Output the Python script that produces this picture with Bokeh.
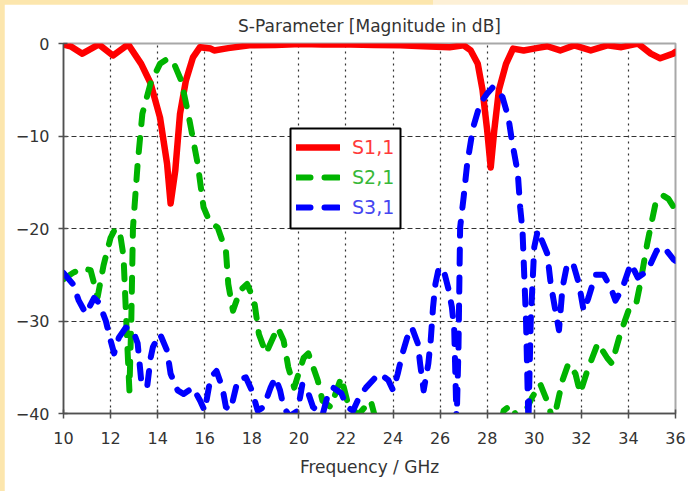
from bokeh.plotting import figure
from bokeh.models import Legend, LegendItem, BoxAnnotation, FixedTicker, Range1d
from bokeh.layouts import column
from bokeh.embed import file_html
from bokeh.resources import INLINE

# ---------------- data ----------------
x_ticks = [10, 12, 14, 16, 18, 20, 22, 24, 26, 28, 30, 32, 34, 36]
y_ticks = [0, -10, -20, -30, -40]

s11_f = [10.0, 10.3, 10.8, 11.5, 12.1, 12.75, 13.3, 13.7, 14.1, 14.4, 14.55, 14.75, 14.95,
         15.2, 15.5, 15.8, 16.25, 16.4, 17.0, 17.9, 19.0, 20.1, 21.0, 22.2, 23.2, 24.3, 25.3,
         26.4, 27.0, 27.3, 27.6, 27.8, 28.0, 28.15, 28.3, 28.5, 28.8, 29.1, 29.55, 30.1,
         30.55, 31.1, 31.7, 32.4, 33.1, 33.7, 34.4, 34.95, 35.35, 35.9, 36.0]
s11_db = [-0.1, -0.3, -1.1, -0.1, -1.3, -0.1, -2.2, -4.3, -8.0, -13.0, -17.3, -13.7, -7.6,
          -4.0, -1.5, -0.4, -0.55, -0.75, -0.5, -0.2, -0.15, -0.05, -0.1, -0.1, -0.15, -0.2, -0.3,
          -0.4, -0.2, -0.75, -2.2, -5.0, -9.4, -13.4, -9.4, -5.0, -2.2, -0.55, -0.75, -0.5,
          -0.3, -0.75, -0.2, -0.75, -0.2, -0.4, 0.0, -1.1, -1.6, -1.1, -0.9]

s21_f = [10.0, 10.4, 10.8, 11.15, 11.45, 11.7, 12.0, 12.2, 12.4, 12.55, 12.7, 12.8, 12.88,
         12.95, 13.15, 13.35, 13.7, 14.1, 14.45, 14.7, 15.0, 15.3, 15.7, 15.95, 16.2, 16.55,
         16.9, 17.0, 17.2, 17.5, 17.8, 18.1, 18.3, 18.6, 19.1, 19.35, 19.55, 19.8, 20.2, 20.4,
         20.8, 21.0, 21.35, 21.8, 22.05, 22.5, 23.05, 23.3, 24.0, 26.0, 28.0, 28.5, 28.7,
         29.0, 29.4, 29.9, 30.25, 30.6, 30.8, 31.2, 31.45, 31.75, 31.95, 32.25, 32.7, 33.1,
         33.3, 33.65, 34.0, 34.3, 34.5, 34.8, 35.15, 35.45, 35.7, 36.0]
s21_db = [-25.5, -24.8, -24.3, -24.5, -27.4, -24.0, -21.0, -20.0, -20.5, -23.0, -32.0, -37.5, -30.0,
          -20.0, -13.0, -7.6, -4.3, -2.2, -1.6, -2.2, -4.0, -7.6, -13.0, -17.7, -19.2, -19.9,
          -22.4, -26.0, -28.9, -26.7, -26.0, -27.8, -31.4, -33.5, -30.7, -32.1, -35.0, -37.2, -34.0, -33.5,
          -36.4, -38.6, -39.3, -36.1, -38.6, -40.2, -38.6, -41.0, -45.0, -45.0, -45.0, -42.0, -39.7,
          -39.1, -41.0, -38.3, -36.8, -39.0, -41.0, -36.4, -34.6, -35.7, -37.8, -35.4, -32.4, -34.0,
          -34.6, -31.4, -28.9, -28.5, -26.0, -21.6, -17.3, -16.4, -16.8, -18.0]

s31_f = [10.0, 10.4, 10.65, 10.95, 11.3, 11.5, 11.8, 12.0, 12.15, 12.35, 12.65, 12.95, 13.15,
         13.3, 13.55, 13.7, 13.8, 14.1, 14.4, 14.55, 14.85, 15.1, 15.5, 15.8, 16.0, 16.25, 16.5,
         16.75, 16.9, 17.1, 17.4, 17.75, 18.0, 18.25, 18.5, 18.8, 19.0, 19.2, 19.35, 19.6,
         19.95, 20.15, 20.4, 20.6, 21.0, 21.25, 21.45, 21.8, 22.05, 22.3, 22.55, 22.85, 23.25,
         23.45, 23.8, 24.0, 24.2, 24.4, 24.6, 24.8, 25.05, 25.15, 25.3, 25.5, 25.6, 25.7, 25.8,
         25.95, 26.15, 26.35, 26.5, 26.6, 26.7, 26.78, 26.85, 27.0, 27.15, 27.4, 27.7, 28.0,
         28.25, 28.65, 28.9, 29.05, 29.3, 29.4, 29.5, 29.65, 29.75, 29.85, 30.0, 30.15, 30.55,
         30.7, 30.9, 31.05, 31.2, 31.4, 31.65, 31.9, 32.1, 32.3, 32.6, 32.95, 33.25, 33.45,
         33.75, 34.1, 34.4, 34.8, 35.2, 35.5, 35.9, 36.0]
s31_db = [-24.8, -26.0, -27.8, -29.2, -27.5, -28.0, -30.0, -32.1, -33.5, -31.8, -30.7, -31.0, -32.4,
          -36.4, -37.2, -34.0, -32.8, -31.4, -33.2, -35.7, -37.5, -37.9, -37.2, -38.6, -39.7, -36.1, -35.4,
          -37.2, -39.3, -39.6, -36.4, -36.1, -37.5, -39.7, -39.3, -37.2, -36.1, -37.5, -39.3, -40.3,
          -39.7, -36.8, -37.8, -39.3, -40.2, -37.8, -37.2, -37.8, -39.3, -39.7, -38.3, -37.2, -36.1,
          -35.7, -36.4, -37.5, -35.7, -33.5, -31.8, -30.7, -32.4, -34.6, -37.5, -34.6, -32.1, -28.5, -26.0,
          -24.2, -24.5, -26.5, -28.5, -31.0, -41.0, -33.0, -19.9, -16.6, -13.0, -9.1, -6.5, -5.4,
          -4.7, -5.8, -8.0, -10.5, -14.0, -17.7, -20.2, -30.0, -41.0, -30.0, -22.0, -20.2, -22.7,
          -26.0, -28.9, -31.0, -26.4, -23.8, -23.8, -26.0, -28.9, -27.5, -25.0, -25.0, -26.4, -27.8,
          -26.4, -23.8, -25.3, -24.6, -22.4, -22.0, -23.3, -23.5]

series_names = ["S1,1", "S2,1", "S3,1"]
line_colors = ["#ff0000", "#00b400", "#0000ff"]
label_colors = ["#ff3a3a", "#38b838", "#4646f0"]

FONT = "DejaVu Sans"

X0, X1 = 10, 36
Y0, Y1 = -40, 0
FRAME_W, FRAME_H = 612, 370

# ---------------- figure ----------------
p = figure(width=684, height=487, x_range=Range1d(X0, X1), y_range=Range1d(Y0, Y1),
           output_backend="svg", toolbar_location=None,
           min_border_left=59, min_border_right=13, min_border_top=39, min_border_bottom=78,
           title="S-Parameter [Magnitude in dB]")
p.margin = (4, 0, 0, 4)
p.background_fill_color = "white"
p.border_fill_color = "white"
p.outline_line_color = "#a8a8a8"
p.outline_line_width = 2

p.title.align = "center"
p.title.text_font = FONT
p.title.text_font_size = "17px"
p.title.text_font_style = "normal"
p.title.text_color = "#333333"
p.title.standoff = 16

p.xaxis.ticker = FixedTicker(ticks=x_ticks)
p.yaxis.ticker = FixedTicker(ticks=y_ticks)
p.xaxis.axis_label = "Frequency / GHz"
p.xaxis.axis_label_text_font = FONT
p.xaxis.axis_label_text_font_size = "17px"
p.xaxis.axis_label_text_font_style = "normal"
p.xaxis.axis_label_text_color = "#333333"
p.xaxis.axis_label_standoff = 10
for ax in (p.xaxis, p.yaxis):
    ax.major_label_text_font = FONT
    ax.major_label_text_font_size = "16px"
    ax.major_label_text_color = "#333333"
    ax.axis_line_color = "#505050"
    ax.axis_line_width = 1.5
    ax.major_tick_line_color = "#505050"
    ax.major_tick_line_width = 1.5
    ax.major_tick_in = 4
    ax.major_tick_out = 5
    ax.minor_tick_line_color = None
p.xaxis.major_label_standoff = 13
p.yaxis.major_label_standoff = 9

p.xgrid.grid_line_color = "#333333"
p.xgrid.grid_line_dash = "2 4"
p.xgrid.grid_line_width = 1.2
p.ygrid.grid_line_color = "#333333"
p.ygrid.grid_line_dash = "5 3"
p.ygrid.grid_line_width = 1.2

r1 = p.line(s11_f, s11_db, line_color=line_colors[0], line_width=6.5,
            line_join="round", line_cap="round")
r2 = p.line(s21_f, s21_db, line_color=line_colors[1], line_width=6,
            line_dash="14 14", line_join="round", line_cap="round")
r3 = p.line(s31_f, s31_db, line_color=line_colors[2], line_width=6,
            line_dash="14 14", line_join="round", line_cap="round")
renderers = [r1, r2, r3]

# legend frame (pixel offsets inside the plot frame, converted to data units)
box_l, box_r, box_b, box_t = 227, 337, 185, 285
p.add_layout(BoxAnnotation(left=X0 + box_l / FRAME_W * (X1 - X0),
                           right=X0 + box_r / FRAME_W * (X1 - X0),
                           bottom=Y0 + box_b / FRAME_H * (Y1 - Y0),
                           top=Y0 + box_t / FRAME_H * (Y1 - Y0),
                           fill_color="white", fill_alpha=1.0,
                           line_color="black", line_width=2, line_alpha=1.0))

# one borderless legend per series so each label gets its own colour
row_bottoms = [250, 220, 190]
for r, name, col, yb in zip(renderers, series_names, label_colors, row_bottoms):
    lg = Legend(items=[LegendItem(label=name, renderers=[r])],
                location=(228, yb), orientation="vertical",
                border_line_alpha=0.0, background_fill_alpha=0.0,
                padding=5, spacing=0, margin=0,
                label_height=20, glyph_height=20, glyph_width=44,
                label_standoff=12, label_text_font=FONT, label_text_font_size="19px",
                label_text_color=col)
    p.add_layout(lg)

page = column(p, styles={"background": "linear-gradient(90deg, #fce6ad 0%, #fce6ad 63%, #fdf0d6 63%, #fdf0d6 100%)"})

open("out.html", "w").write(file_html(page, INLINE))
